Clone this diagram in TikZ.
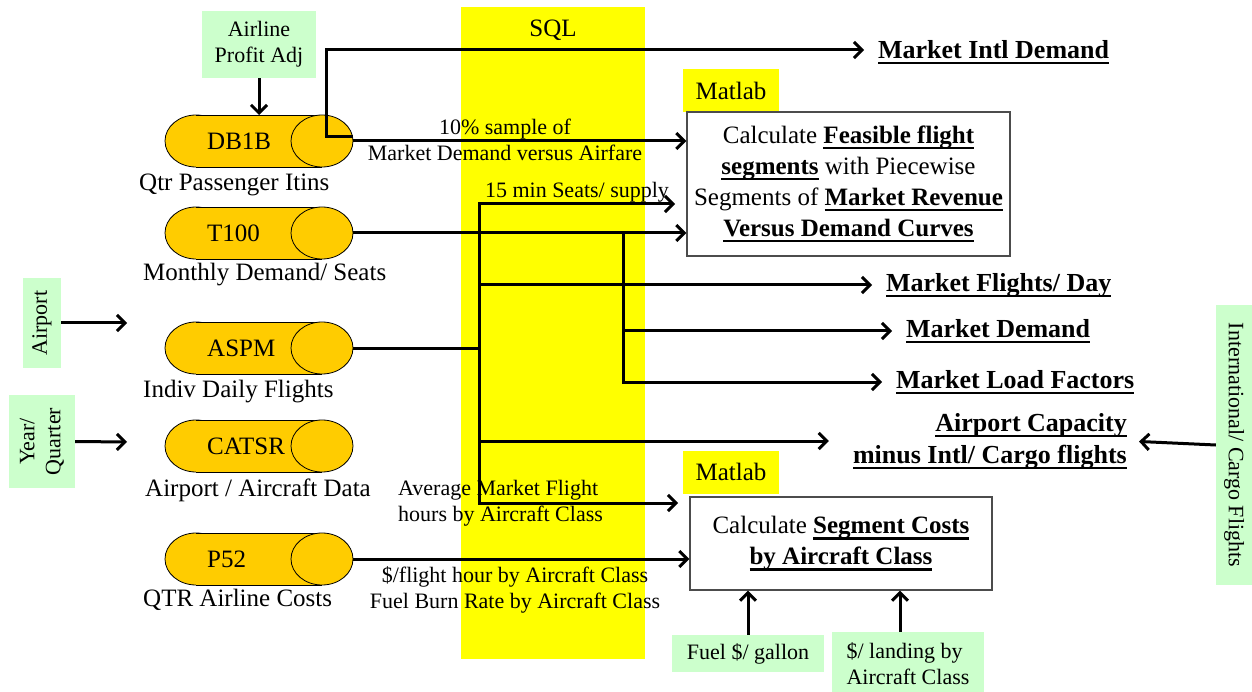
\documentclass[tikz,border=0pt]{standalone}
\usepackage{fontspec}
\setmainfont{Liberation Serif}
\usetikzlibrary{positioning, arrows.meta}
\definecolor{dbgold}{HTML}{FFCC00}
\definecolor{inputgreen}{HTML}{CCFFCC}
\definecolor{toolyellow}{HTML}{FFFF00}
% bold text with a heavy underline
\newcommand{\ulbf}[1]{\setbox0\hbox{\bfseries #1}\rlap{\rule[-6pt]{\wd0}{2.4pt}}\box0\relax}

\begin{document}
\begin{tikzpicture}[
    x=1pt, y=-1pt,
    every node/.style={inner sep=2pt},
    dbslot/.style={minimum width=188pt, minimum height=52pt, inner sep=0pt, outer sep=0pt},
    cylline/.style={draw=black, line width=0.8pt, fill=dbgold},
    dbname/.style={anchor=west, font=\fontsize{25}{31}\selectfont},
    dbcaption/.style={anchor=west, font=\fontsize{25}{31}\selectfont},
    inbox/.style={fill=inputgreen, font=\fontsize{22}{26}\selectfont, align=center},
    toolbox/.style={fill=toolyellow, font=\fontsize{25}{31}\selectfont, minimum width=96pt, minimum height=43pt},
    calcbox/.style={draw=black!70, line width=1.2pt, align=center, font=\fontsize{25}{31}\selectfont},
    outtext/.style={anchor=west, font=\fontsize{26}{32}\selectfont, outer xsep=12pt},
    flowlabel/.style={font=\fontsize{22}{26}\selectfont, align=center},
    arrow/.style={line width=3pt, -{Straight Barb[length=8pt, width=16pt]}},
    link/.style={line width=3pt}
]
\useasboundingbox (0,0) rectangle (1252,692);

% SQL band
\node[fill=toolyellow, minimum width=184pt, minimum height=652pt] (sqlband) at (553,333) {};
\node[font=\fontsize{25}{31}\selectfont] (sqltxt) at (553,30) {SQL};

% data sources
\node[dbslot] (db1b) at (259,141) {};
\node[dbslot] (t100) at (259,233) {};
\node[dbslot] (aspm) at (259,348) {};
\node[dbslot] (catsr) at (259,446) {};
\node[dbslot] (p52) at (259,559) {};
\foreach \n in {db1b,t100,aspm,catsr,p52}{
  \path[cylline] ([xshift=31pt]\n.west) ellipse [x radius=31pt, y radius=26pt];
  \fill[dbgold] ([xshift=31pt]\n.north west) rectangle ([xshift=-31pt]\n.south east);
  \draw[line width=0.8pt] ([xshift=31pt]\n.north west) -- ([xshift=-31pt]\n.north east);
  \draw[line width=0.8pt] ([xshift=31pt]\n.south west) -- ([xshift=-31pt]\n.south east);
  \path[cylline] ([xshift=-31pt]\n.east) ellipse [x radius=31pt, y radius=26pt];
}
\node[dbname] (db1bname) at (205,141) {DB1B};
\node[dbname] (t100name) at (205,233) {T100};
\node[dbname] (aspmname) at (205,348) {ASPM};
\node[dbname] (catsrname) at (205,446) {CATSR};
\node[dbname] (p52name) at (205,559) {P52};
\node[dbcaption] (db1bcap) at (137,185) {Qtr Passenger Itins};
\node[dbcaption] (t100cap) at (141,275) {Monthly Demand/ Seats};
\node[dbcaption] (aspmcap) at (141,392) {Indiv Daily Flights};
\node[dbcaption] (catsrcap) at (143,490) {Airport / Aircraft Data};
\node[dbcaption] (p52cap) at (141,600) {QTR Airline Costs};

% inputs
\node[inbox, minimum width=114pt, minimum height=67pt] (profit) at (259,44.5) {Airline\\Profit Adj};
\node[inbox, rotate=90, minimum width=90pt, minimum height=38pt] (airport) at (42,323) {Airport};
\node[inbox, rotate=90, minimum width=93pt, minimum height=66pt] (yearq) at (42,441.5) {Year/\\Quarter};
\node[inbox, rotate=-90, minimum width=280pt, minimum height=36pt] (intl) at (1234,445) {International/ Cargo Flights};
\node[inbox, minimum width=152pt, minimum height=37pt] (fuel) at (748,653.5) {Fuel \$/ gallon};
\node[inbox, align=left, minimum width=152pt, minimum height=64pt] (landing) at (908,664) {\$/ landing by\\Aircraft Class};

% matlab steps
\node[toolbox] (matlab1) at (731,90.5) {Matlab};
\node[toolbox] (matlab2) at (731,472) {Matlab};
\node[calcbox, minimum width=323pt, minimum height=144pt] (calc1) at (848.5,184)
  {Calculate \ulbf{Feasible flight}\\\ulbf{segments} with Piecewise\\Segments of \ulbf{Market Revenue}\\\ulbf{Versus Demand Curves}};
\node[calcbox, minimum width=302pt, minimum height=93pt] (calc2) at (841,543.5)
  {Calculate \ulbf{Segment Costs}\\\ulbf{by Aircraft Class}};

% outputs
\node[outtext] (mktintl) at (864,52) {\ulbf{Market Intl Demand}};
\node[outtext] (mktfd) at (872,285) {\ulbf{Market Flights/ Day}};
\node[outtext] (mktdem) at (892,331) {\ulbf{Market Demand}};
\node[outtext] (mktlf) at (882,382) {\ulbf{Market Load Factors}};
\node[font=\fontsize{26}{32}\selectfont, align=right, anchor=east] (cap) at (1129,441)
  {\ulbf{Airport Capacity}\\\ulbf{minus Intl/ Cargo flights}};

% flow labels
\node[flowlabel] (samplelbl) at (505,140) {10\% sample of\\Market Demand versus Airfare};
\node[flowlabel] (seatslbl) at (577,192) {15 min Seats/ supply};
\node[flowlabel, anchor=west, align=left] (hrslbl) at (396,503) {Average Market Flight\\hours by Aircraft Class};
\node[flowlabel] (costlbl) at (515,590) {\$/flight hour by Aircraft Class\\Fuel Burn Rate by Aircraft Class};

% junctions
\coordinate (intlturn) at (326,50);
\coordinate (busjoin) at (479,348);
\coordinate (tsplit) at (623,233);
\coordinate (seatsin) at (675,204);
\coordinate (hrsin) at (678,503);
\coordinate (aspmin) at (127,323);
\coordinate (catsrin) at (127,442);

% connectors
\draw[arrow] (profit.south) -- (db1b.north);
\draw[arrow] (airport.south) -- (aspmin);
\draw[arrow] (yearq.south) -- (catsrin);
\draw[arrow] (db1b.east) -- (db1b.east -| calc1.west);
\draw[arrow] ([yshift=4pt]db1b.east) -| (intlturn) -- (intlturn -| mktintl.west);
\draw[arrow] (t100.east) -- (t100.east -| calc1.west);
\draw[arrow] (tsplit) |- (mktdem.west);
\draw[arrow] (tsplit) |- (mktlf.west);
\draw[link] (aspm.east) -- (busjoin);
\draw[arrow] (busjoin) |- (seatsin);
\draw[arrow] (busjoin) |- (mktfd.west);
\draw[arrow] (busjoin) |- ([xshift=-22pt]cap.west);
\draw[arrow] (busjoin) |- (hrsin);
\draw[arrow] (p52.east) -- (p52.east -| calc2.west);
\draw[arrow, shorten >=10pt] (intl.south) -- (cap.east);
\draw[arrow] (fuel.north) -- (fuel.north |- calc2.south);
\draw[arrow] ([xshift=-8pt]landing.north) -- ([xshift=-8pt]landing.north |- calc2.south);

\end{tikzpicture}
\end{document}
